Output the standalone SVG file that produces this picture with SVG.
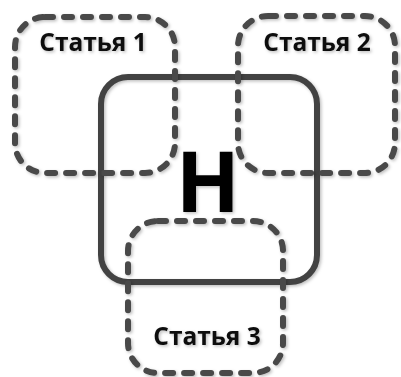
<svg xmlns="http://www.w3.org/2000/svg" width="401" height="377" viewBox="0 0 401 377">
<style>
.dash{fill:none;stroke:#484848;stroke-width:6;stroke-dasharray:8 11;stroke-linecap:round}
.main{fill:none;stroke:#434343;stroke-width:6}
.lbl{font-family:"Open Sans","Liberation Sans",sans-serif;font-weight:bold;font-size:24.5px;fill:#111;text-anchor:middle}
</style>
<defs>
<filter id="sh" x="-10%" y="-10%" width="130%" height="130%">
<feDropShadow dx="1.5" dy="1.5" stdDeviation="1.5" flood-color="#000" flood-opacity="0.25"/>
</filter>
</defs>
<rect width="401" height="377" fill="#fff"/>
<g id="main" filter="url(#sh)">
<rect class="main" x="101" y="77" width="216" height="205" rx="27"/>
<text x="208" y="212" font-family="'Open Sans','Liberation Sans',sans-serif" font-weight="bold" font-size="84" text-anchor="middle" fill="#000">H</text>
</g>
<g id="art1" filter="url(#sh)">
<rect class="dash" x="15" y="17" width="160" height="156" rx="30"/>
<text class="lbl" x="93" y="51">Статья 1</text>
</g>
<g id="art2" filter="url(#sh)">
<rect class="dash" x="238" y="16" width="157" height="157" rx="30"/>
<text class="lbl" x="317" y="51">Статья 2</text>
</g>
<g id="art3" filter="url(#sh)">
<rect class="dash" x="128" y="221" width="155" height="152" rx="30"/>
<text class="lbl" x="207" y="345">Статья 3</text>
</g>
<g id="connectors"/>
</svg>
